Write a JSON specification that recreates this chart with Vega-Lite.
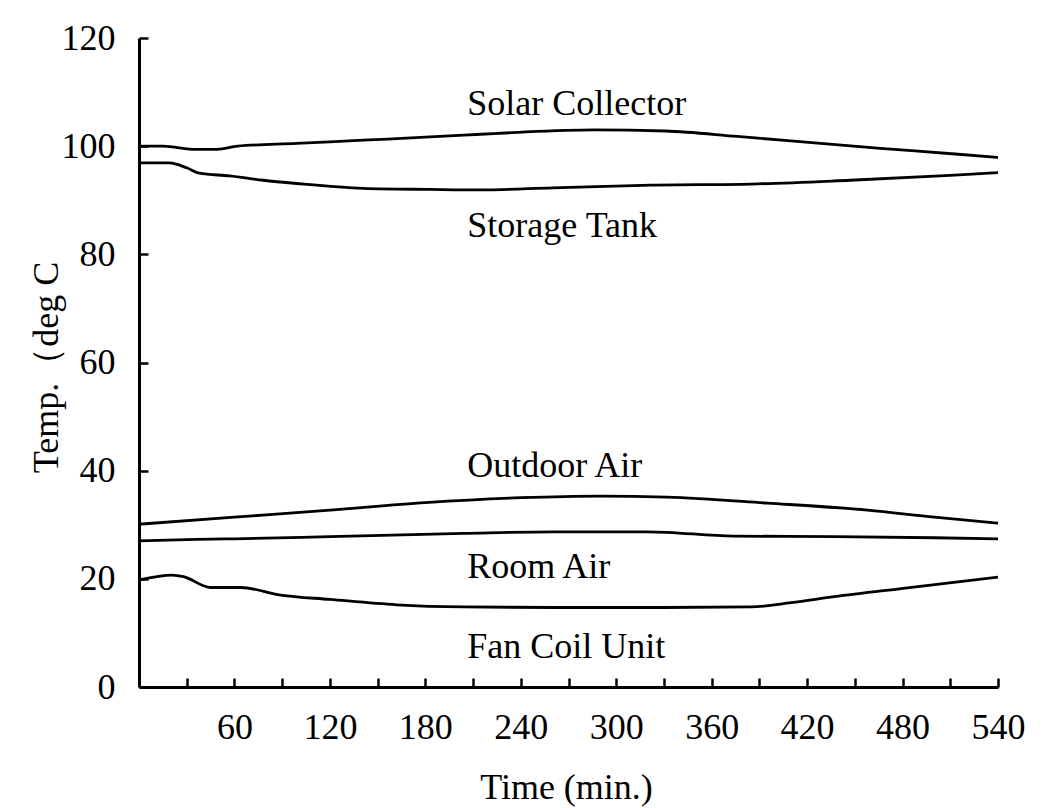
{
  "$schema": "https://vega.github.io/schema/vega-lite/v6.json",
  "width": 859,
  "height": 649,
  "autosize": "none",
  "padding": {"left": 139, "top": 38, "right": 56, "bottom": 121},
  "background": "white",
  "config": {
    "font": "Liberation Serif",
    "view": {"stroke": null},
    "axis": {"grid": false, "domainColor": "black", "tickColor": "black", "labelColor": "black", "titleColor": "black", "labelFont": "Liberation Serif", "titleFont": "Liberation Serif", "titleFontWeight": "normal"}
  },
  "datasets": {
    "lines": [
      {"series": "Solar Collector", "t": 0, "v": 100.0},
      {"series": "Solar Collector", "t": 15, "v": 100.0},
      {"series": "Solar Collector", "t": 36, "v": 99.4},
      {"series": "Solar Collector", "t": 49, "v": 99.4},
      {"series": "Solar Collector", "t": 62, "v": 100.0},
      {"series": "Solar Collector", "t": 99, "v": 100.5},
      {"series": "Solar Collector", "t": 141, "v": 101.1},
      {"series": "Solar Collector", "t": 183, "v": 101.7},
      {"series": "Solar Collector", "t": 215, "v": 102.2},
      {"series": "Solar Collector", "t": 241, "v": 102.6},
      {"series": "Solar Collector", "t": 286, "v": 103.0},
      {"series": "Solar Collector", "t": 331, "v": 102.8},
      {"series": "Solar Collector", "t": 376, "v": 101.8},
      {"series": "Solar Collector", "t": 421, "v": 100.7},
      {"series": "Solar Collector", "t": 466, "v": 99.6},
      {"series": "Solar Collector", "t": 511, "v": 98.6},
      {"series": "Solar Collector", "t": 540, "v": 97.9},
      {"series": "Storage Tank", "t": 0, "v": 96.9},
      {"series": "Storage Tank", "t": 19, "v": 96.9},
      {"series": "Storage Tank", "t": 30, "v": 96.0},
      {"series": "Storage Tank", "t": 38, "v": 95.0},
      {"series": "Storage Tank", "t": 57, "v": 94.5},
      {"series": "Storage Tank", "t": 78, "v": 93.7},
      {"series": "Storage Tank", "t": 99, "v": 93.1},
      {"series": "Storage Tank", "t": 141, "v": 92.2},
      {"series": "Storage Tank", "t": 183, "v": 92.0},
      {"series": "Storage Tank", "t": 215, "v": 91.9},
      {"series": "Storage Tank", "t": 260, "v": 92.3},
      {"series": "Storage Tank", "t": 322, "v": 92.8},
      {"series": "Storage Tank", "t": 385, "v": 93.0},
      {"series": "Storage Tank", "t": 447, "v": 93.7},
      {"series": "Storage Tank", "t": 510, "v": 94.6},
      {"series": "Storage Tank", "t": 540, "v": 95.1},
      {"series": "Outdoor Air", "t": 0, "v": 30.1},
      {"series": "Outdoor Air", "t": 60, "v": 31.4},
      {"series": "Outdoor Air", "t": 120, "v": 32.7},
      {"series": "Outdoor Air", "t": 180, "v": 34.1},
      {"series": "Outdoor Air", "t": 240, "v": 35.0},
      {"series": "Outdoor Air", "t": 290, "v": 35.3},
      {"series": "Outdoor Air", "t": 332, "v": 35.1},
      {"series": "Outdoor Air", "t": 395, "v": 34.0},
      {"series": "Outdoor Air", "t": 458, "v": 32.7},
      {"series": "Outdoor Air", "t": 500, "v": 31.4},
      {"series": "Outdoor Air", "t": 540, "v": 30.3},
      {"series": "Room Air", "t": 0, "v": 27.0},
      {"series": "Room Air", "t": 36, "v": 27.3},
      {"series": "Room Air", "t": 60, "v": 27.4},
      {"series": "Room Air", "t": 120, "v": 27.8},
      {"series": "Room Air", "t": 204, "v": 28.4},
      {"series": "Room Air", "t": 260, "v": 28.7},
      {"series": "Room Air", "t": 320, "v": 28.7},
      {"series": "Room Air", "t": 374, "v": 27.9},
      {"series": "Room Air", "t": 437, "v": 27.8},
      {"series": "Room Air", "t": 500, "v": 27.6},
      {"series": "Room Air", "t": 540, "v": 27.4},
      {"series": "Fan Coil Unit", "t": 0, "v": 19.8},
      {"series": "Fan Coil Unit", "t": 21, "v": 20.7},
      {"series": "Fan Coil Unit", "t": 28, "v": 20.4},
      {"series": "Fan Coil Unit", "t": 45, "v": 18.4},
      {"series": "Fan Coil Unit", "t": 64, "v": 18.4},
      {"series": "Fan Coil Unit", "t": 89, "v": 17.0},
      {"series": "Fan Coil Unit", "t": 120, "v": 16.2},
      {"series": "Fan Coil Unit", "t": 162, "v": 15.2},
      {"series": "Fan Coil Unit", "t": 204, "v": 14.8},
      {"series": "Fan Coil Unit", "t": 260, "v": 14.7},
      {"series": "Fan Coil Unit", "t": 330, "v": 14.7},
      {"series": "Fan Coil Unit", "t": 385, "v": 14.8},
      {"series": "Fan Coil Unit", "t": 410, "v": 15.6},
      {"series": "Fan Coil Unit", "t": 437, "v": 16.7},
      {"series": "Fan Coil Unit", "t": 479, "v": 18.2},
      {"series": "Fan Coil Unit", "t": 540, "v": 20.3}
    ],
    "labels": [
      {"label": "Solar Collector", "t": 206.4, "v": 105.8},
      {"label": "Storage Tank", "t": 206.4, "v": 83.2},
      {"label": "Outdoor Air", "t": 206.4, "v": 38.8},
      {"label": "Room Air", "t": 206.4, "v": 20.2},
      {"label": "Fan Coil Unit", "t": 206.4, "v": 5.4}
    ]
  },
  "layer": [
    {
      "data": {"name": "lines"},
      "mark": {"type": "line", "color": "black", "strokeWidth": 2.8, "interpolate": "monotone", "clip": false},
      "encoding": {
        "x": {
          "field": "t", "type": "quantitative",
          "scale": {"domain": [0, 540], "nice": false, "zero": false},
          "axis": {
            "values": [0, 30, 60, 90, 120, 150, 180, 210, 240, 270, 300, 330, 360, 390, 420, 450, 480, 510, 540],
            "labelExpr": "datum.value % 60 === 0 && datum.value > 0 ? datum.label : ''",
            "tickSize": -9, "tickWidth": 2.5, "domainWidth": 3,
            "labelFontSize": 36, "labelPadding": 32, "labelOverlap": false, "labelFlush": false, "labelBound": false,
            "title": "Time (min.)", "titleFontSize": 36, "titleBaseline": "alphabetic", "titleY": 111, "titleX": 427, "titleAlign": "center"
          }
        },
        "y": {
          "field": "v", "type": "quantitative",
          "scale": {"domain": [0, 120], "nice": false, "zero": true},
          "axis": {
            "values": [0, 20, 40, 60, 80, 100, 120],
            "tickSize": -9, "tickWidth": 2.5, "domainWidth": 3,
            "labelFontSize": 36, "labelPadding": 33, "labelOverlap": false, "labelFlush": false, "labelBound": false,
            "title": "Temp.（deg C", "titleFontSize": 36, "titleBaseline": "alphabetic", "titleAngle": -90, "titleX": -82, "titleY": 329, "titleAlign": "center"
          }
        },
        "detail": {"field": "series", "type": "nominal"}
      }
    },
    {
      "data": {"name": "labels"},
      "mark": {"type": "text", "align": "left", "baseline": "alphabetic", "fontSize": 36, "font": "Liberation Serif", "color": "black"},
      "encoding": {
        "x": {"field": "t", "type": "quantitative"},
        "y": {"field": "v", "type": "quantitative"},
        "text": {"field": "label", "type": "nominal"}
      }
    }
  ]
}
